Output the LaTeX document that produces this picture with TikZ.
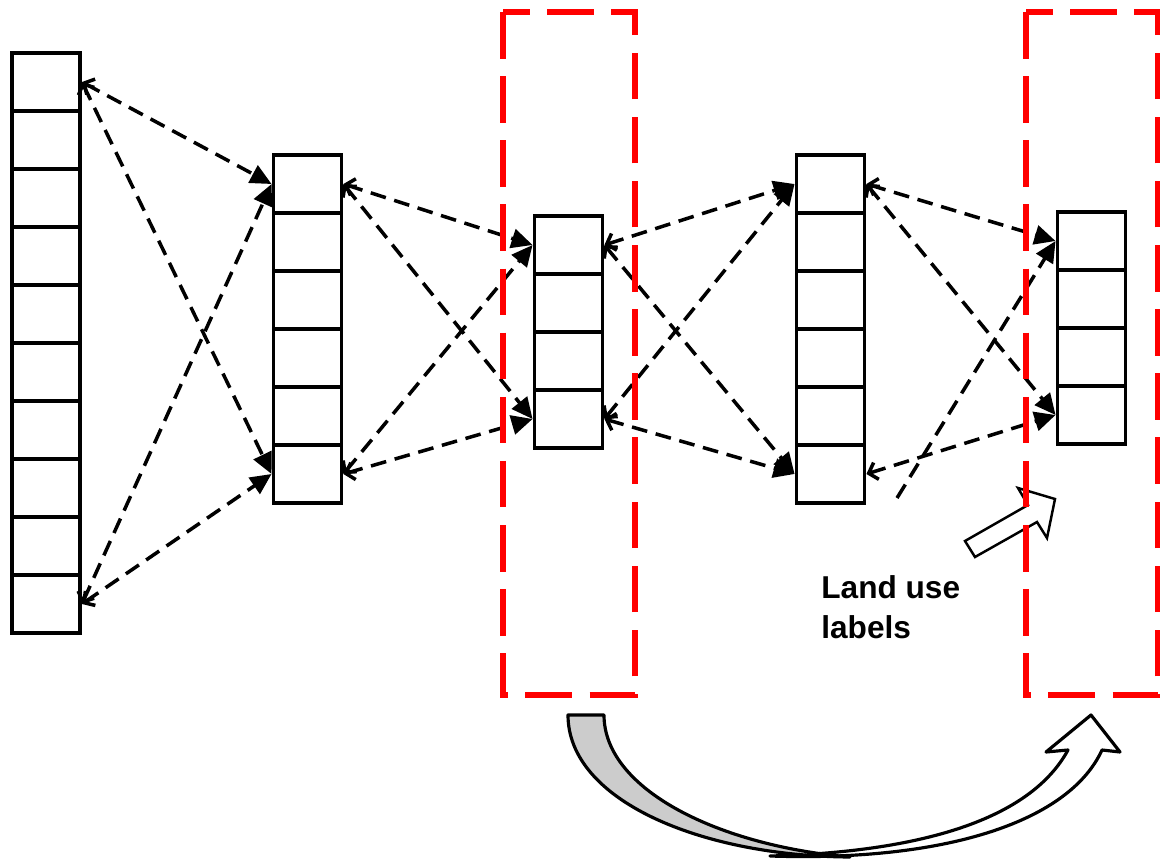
\documentclass[tikz,border=0pt]{standalone}
\usepackage{fontspec}
\setsansfont{Liberation Sans}
\usepackage{tikz}
\usetikzlibrary{arrows.meta}
\definecolor{windowred}{RGB}{255, 0, 0}
\definecolor{ribbongray}{RGB}{204, 204, 204}

\begin{document}
\begin{tikzpicture}[x=0.02cm, y=-0.02cm,
    cell/.style={draw, line width=2.2pt, minimum width=1.36cm, minimum height=1.16cm, inner sep=0pt},
    link/.style={line width=2pt, dash pattern=on 9pt off 5pt, -{Triangle[length=12pt, width=11pt]}},
    back/.style={link, {Straight Barb[length=4.5pt, width=10pt]}-{Triangle[length=12pt, width=11pt]}},
    window/.style={windowred, line width=3.1pt, dash pattern=on 26.5pt off 10pt},
    ribbon/.style={line width=1.8pt, line join=round}]
    \useasboundingbox (0, 0) rectangle (1160, 862);

    % Layers (columns of cells)
    \foreach \col/\x/\ytop/\n in {1/46/53/10, 2/307.5/155/6, 3/568.5/216/4, 4/830.5/155/6, 5/1091.5/212/4} {
        \foreach \i in {1,...,\n} {
            \node[cell] (c\col-\i) at (\x, {\ytop + 29 + 58*(\i-1)}) {};
        }
    }

    % Connections between layers
    \foreach \src/\srclast/\dst/\dstlast in {1/10/2/6, 2/6/3/4, 3/4/4/6} {
        \foreach \s in {1, \srclast} {
            \foreach \t in {1, \dstlast} {
                \draw[back] (c\src-\s.east) -- (c\dst-\t.west);
            }
        }
    }
    \draw[back] (c4-1.east) -- (c5-1.west);
    \draw[back] (c4-1.east) -- (c5-4.west);
    \draw[back] (c4-6.east) -- (c5-4.west);
    \coordinate (loose) at (897, 498);
    \draw[link] (loose) -- (c5-1.west);

    % Label and its pointer
    \node[anchor=north west, inner sep=0pt, align=left,
          font=\sffamily\bfseries\fontsize{18}{22.7}\selectfont] (landuse) at (821, 575) {Land use\\labels};
    \filldraw[fill=white, line width=1.4pt, line join=miter]
        (965, 541) -- (1028, 505) -- (1018, 488) -- (1055, 499) -- (1047, 538) -- (1037, 522) -- (975, 557) -- cycle;

    % Curved arrow (copy of the layer)
    \filldraw[ribbon, fill=white]
        (770, 856) .. controls (950, 862) and (1070, 820) .. (1102, 750)
        -- (1120, 752) -- (1091, 715) -- (1046, 752) -- (1068, 750)
        .. controls (1030, 820) and (920, 852) .. (770, 856) -- cycle;
    \filldraw[ribbon, fill=ribbongray]
        (568, 715) .. controls (568, 800) and (700, 856) .. (850, 857)
        .. controls (720, 846) and (604, 790) .. (604, 715) -- cycle;

    % Windows
    \draw[window] (503, 12) rectangle (635, 695);
    \draw[window] (1026, 12) rectangle (1158, 695);
\end{tikzpicture}
\end{document}
